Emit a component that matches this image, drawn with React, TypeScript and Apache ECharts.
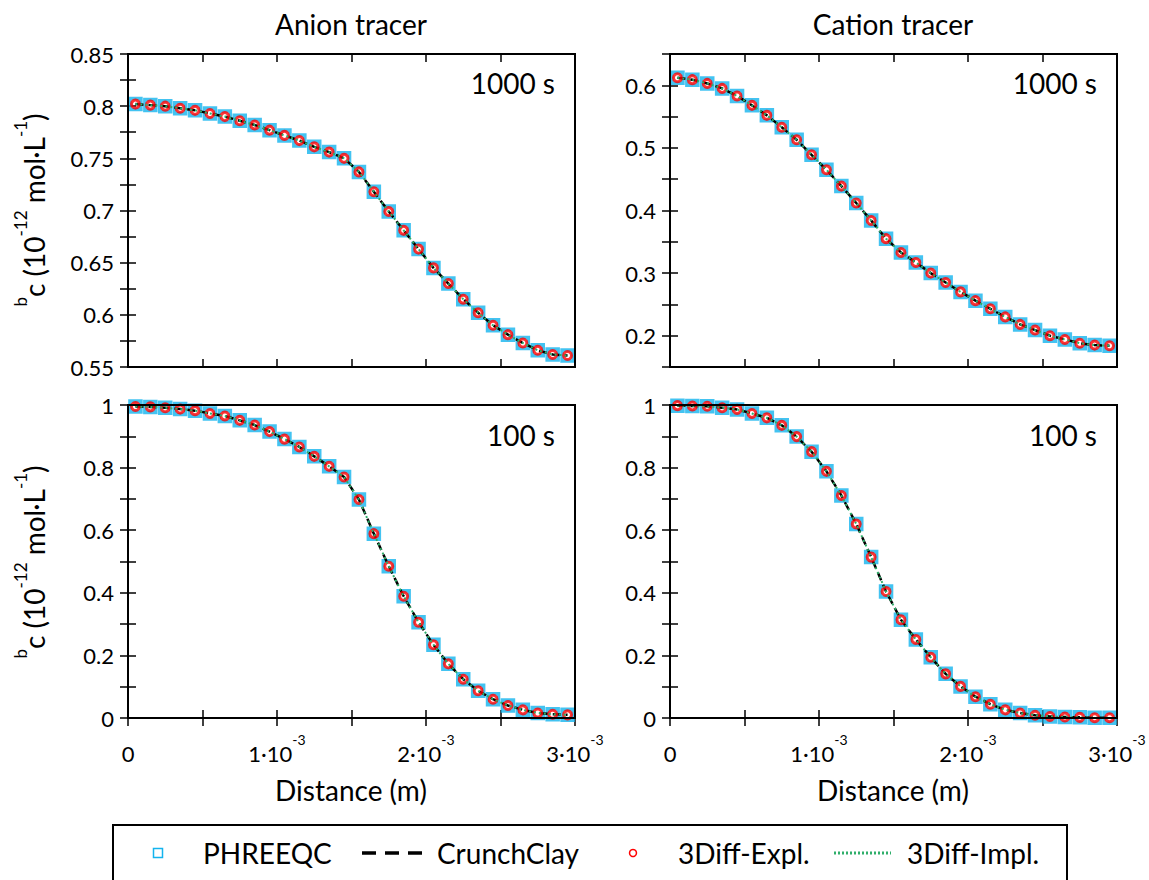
import React, { useEffect, useRef } from "react";
import * as echarts from "echarts";

// Distance (m) of the 30 cell centres
const distance = [
  0.05e-3, 0.15e-3, 0.25e-3, 0.35e-3, 0.45e-3, 0.55e-3, 0.65e-3, 0.75e-3, 0.85e-3, 0.95e-3,
  1.05e-3, 1.15e-3, 1.25e-3, 1.35e-3, 1.45e-3, 1.55e-3, 1.65e-3, 1.75e-3, 1.85e-3, 1.95e-3,
  2.05e-3, 2.15e-3, 2.25e-3, 2.35e-3, 2.45e-3, 2.55e-3, 2.65e-3, 2.75e-3, 2.85e-3, 2.95e-3,
];

// Concentrations (10^-12 mol/L); all four codes coincide at plot resolution
const anion1000 = [
  0.802, 0.801, 0.8, 0.798, 0.796, 0.793, 0.79, 0.786, 0.782, 0.777,
  0.772, 0.767, 0.761, 0.756, 0.75, 0.737, 0.718, 0.699, 0.681, 0.663,
  0.645, 0.63, 0.615, 0.602, 0.59, 0.581, 0.573, 0.566, 0.562, 0.561,
];
const cation1000 = [
  0.612, 0.609, 0.603, 0.595, 0.583, 0.568, 0.552, 0.533, 0.513, 0.489,
  0.465, 0.439, 0.412, 0.384, 0.355, 0.333, 0.317, 0.3, 0.285, 0.27,
  0.256, 0.243, 0.23, 0.218, 0.209, 0.2, 0.194, 0.188, 0.185, 0.184,
];
const anion100 = [
  0.995, 0.994, 0.991, 0.987, 0.982, 0.973, 0.965, 0.951, 0.936, 0.915,
  0.891, 0.866, 0.836, 0.804, 0.77, 0.698, 0.589, 0.485, 0.389, 0.306,
  0.234, 0.173, 0.124, 0.087, 0.06, 0.04, 0.026, 0.016, 0.012, 0.01,
];
const cation100 = [
  0.998, 0.997, 0.996, 0.991, 0.986, 0.973, 0.959, 0.935, 0.899, 0.851,
  0.788, 0.711, 0.62, 0.514, 0.404, 0.314, 0.251, 0.194, 0.141, 0.101,
  0.068, 0.044, 0.026, 0.016, 0.009, 0.005, 0.003, 0.002, 0.001, 0.001,
];

const columnTitles = ["Anion tracer", "Cation tracer"];
const timeLabels = ["1000 s", "1000 s", "100 s", "100 s"];
const seriesNames = ["PHREEQC", "CrunchClay", "3Diff-Expl.", "3Diff-Impl."];

const FONT = "Lato";
const CYAN = "#14b4ee";
const RED = "#ff0000";
const GREEN = "#2fae6a";

export default function App() {
  const ref = useRef<HTMLDivElement>(null);
  useEffect(() => {
    document.body.style.margin = "0";
    const chart = echarts.init(ref.current!, null, { renderer: "svg" });

    const panels = [
      { data: anion1000, min: 0.55, max: 0.85, step: 0.025, grid: { left: 128, top: 54 } },
      { data: cation1000, min: 0.15, max: 0.65, step: 0.05, grid: { left: 670, top: 54 } },
      { data: anion100, min: 0, max: 1, step: 0.1, grid: { left: 128, top: 405 } },
      { data: cation100, min: 0, max: 1, step: 0.1, grid: { left: 670, top: 405 } },
    ];
    const W = 447, H = 313;

    const grids: any[] = [];
    const xAxes: any[] = [];
    const yAxes: any[] = [];
    const series: any[] = [];
    const tick = { show: true, inside: true, length: 8, lineStyle: { color: "#000", width: 1.5 } };

    panels.forEach((p, g) => {
      grids.push({
        left: p.grid.left, top: p.grid.top, width: W, height: H,
        show: true, borderColor: "#000", borderWidth: 2, backgroundColor: "transparent", z: 10,
      });
      const bottomRow = g >= 2;
      const xBase = {
        type: "value", gridIndex: g, min: 0, max: 0.003, interval: 0.0005,
        splitLine: { show: false }, axisLine: { show: false }, axisTick: tick,
      };
      xAxes.push({
        ...xBase, position: "bottom",
        axisLabel: {
          show: bottomRow, margin: 14, color: "#000", fontFamily: FONT, fontSize: 22,
          formatter: (v: number) => {
            const k = Math.round(v / 0.0005);
            if (k % 2 !== 0) return "";
            const n = k / 2;
            if (n === 0) return "{n|0}";
            return `{n|${n}·10}{s|-3}`;
          },
          rich: {
            n: { fontFamily: FONT, fontSize: 22, color: "#000", verticalAlign: "bottom", lineHeight: 32 },
            s: { fontFamily: FONT, fontSize: 14, color: "#000", verticalAlign: "top", lineHeight: 32 },
          },
        },
      });
      xAxes.push({ ...xBase, position: "top", axisLabel: { show: false } });

      const yBase = {
        type: "value", gridIndex: g, min: p.min, max: p.max, interval: p.step,
        splitLine: { show: false }, axisLine: { show: false }, axisTick: tick,
      };
      yAxes.push({
        ...yBase, position: "left",
        axisLabel: {
          show: true, margin: 14, color: "#000", fontFamily: FONT, fontSize: 22,
          formatter: (v: number) => {
            const k = Math.round(v / p.step);
            const isMajor = Math.abs(v * 10 - Math.round(v * 10)) < 1e-6 || (p.step === 0.025 && k % 2 === 0);
            if (!isMajor) return "";
            if (p.step === 0.05 && (v < p.min + 1e-6 || v > p.max - 1e-6)) return "";
            if (p.step === 0.1 && k % 2 !== 0) return "";
            return String(parseFloat(v.toFixed(3)));
          },
        },
      });
      yAxes.push({ ...yBase, position: "right", axisLabel: { show: false } });

      const pts = distance.map((x, i) => [x, p.data[i]]);
      series.push({
        name: seriesNames[0], type: "scatter", xAxisIndex: g * 2, yAxisIndex: g * 2,
        data: pts, symbol: "rect", symbolSize: 11, z: 2,
        itemStyle: { color: "transparent", borderColor: CYAN, borderWidth: 3.5 },
      });
      series.push({
        name: seriesNames[1], type: "line", xAxisIndex: g * 2, yAxisIndex: g * 2,
        data: pts, symbol: "none", showSymbol: false, z: 3,
        lineStyle: { color: "#000", width: 2.5, type: [8, 5] },
      });
      series.push({
        name: seriesNames[2], type: "scatter", xAxisIndex: g * 2, yAxisIndex: g * 2,
        data: pts, symbol: "circle", symbolSize: 8, z: 4,
        itemStyle: { color: "transparent", borderColor: RED, borderWidth: 3 },
      });
      series.push({
        name: seriesNames[3], type: "line", xAxisIndex: g * 2, yAxisIndex: g * 2,
        data: pts, symbol: "none", showSymbol: false, z: 5,
        lineStyle: { color: GREEN, width: 2, type: [2, 3] },
      });
    });

    const txt = (text: string, x: number, y: number, align = "center", size = 28) => ({
      type: "text", x, y, z: 100,
      style: { text, fill: "#000", font: `${size}px ${FONT}`, align, verticalAlign: "middle" },
    });

    const yLabel = (cy: number) => ({
      type: "text", x: 30, y: cy, rotation: Math.PI / 2, z: 100,
      style: {
        text: "{b|b}{n|c (10}{s|-12}{n| mol·L}{s|-1}{n|)}",
        align: "center", verticalAlign: "middle",
        rich: {
          n: { fontFamily: FONT, fontSize: 28, fill: "#000", verticalAlign: "bottom", lineHeight: 36 },
          b: { fontFamily: FONT, fontSize: 17, fill: "#000", verticalAlign: "top", lineHeight: 36 },
          s: { fontFamily: FONT, fontSize: 17, fill: "#000", verticalAlign: "top", lineHeight: 36 },
        },
      },
    });

    const legendY = 853;
    const graphic: any[] = [
      txt(columnTitles[0], 351, 24),
      txt(columnTitles[1], 893, 24),
      txt(timeLabels[0], 555, 83, "right"),
      txt(timeLabels[1], 1097, 83, "right"),
      txt(timeLabels[2], 555, 435, "right"),
      txt(timeLabels[3], 1097, 435, "right"),
      txt("Distance (m)", 351, 790),
      txt("Distance (m)", 893, 790),
      yLabel(210),
      yLabel(562),
      {
        type: "rect", z: 90, shape: { x: 113, y: 825, width: 954, height: 70 },
        style: { fill: "#fff", stroke: "#000", lineWidth: 2 },
      },
      {
        type: "rect", z: 100, shape: { x: 153.5, y: legendY - 4.5, width: 9, height: 9 },
        style: { fill: "none", stroke: CYAN, lineWidth: 1.5 },
      },
      txt(seriesNames[0], 203, legendY, "left"),
      {
        type: "line", z: 100, shape: { x1: 362, y1: legendY, x2: 422, y2: legendY },
        style: { stroke: "#000", lineWidth: 3.5, lineDash: [14, 9] },
      },
      txt(seriesNames[1], 437, legendY, "left"),
      {
        type: "circle", z: 100, shape: { cx: 633, cy: legendY, r: 3.5 },
        style: { fill: "none", stroke: RED, lineWidth: 1.5 },
      },
      txt(seriesNames[2], 678, legendY, "left"),
      {
        type: "line", z: 100, shape: { x1: 834, y1: legendY, x2: 891, y2: legendY },
        style: { stroke: GREEN, lineWidth: 3, lineDash: [2, 2] },
      },
      txt(seriesNames[3], 907, legendY, "left"),
    ];

    chart.setOption({
      animation: false,
      backgroundColor: "#fff",
      grid: grids,
      xAxis: xAxes,
      yAxis: yAxes,
      series,
      graphic,
    });
    return () => chart.dispose();
  }, []);
  return <div ref={ref} style={{ width: 1149, height: 880 }} />;
}
